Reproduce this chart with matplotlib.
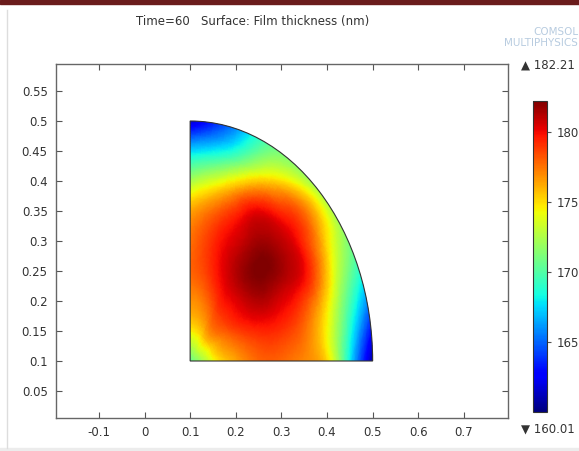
import numpy as np
import matplotlib
matplotlib.use("Agg")
import matplotlib.pyplot as plt
import matplotlib.tri as mtri
from matplotlib.patches import Wedge, Rectangle
from matplotlib.lines import Line2D

# film thickness (nm) on a polar grid around corner (0.1, 0.1)
corner_value = 170.5
radii = [0.05, 0.1, 0.15, 0.2, 0.25, 0.3, 0.35, 0.4]
angles_deg = [0, 15, 30, 45, 60, 75, 90]
# rows: radius, columns: angle
thickness = [
    [174.0, 174.8, 175.3, 175.8, 175.3, 174.8, 174.5],
    [176.3, 177.3, 178.3, 178.8, 178.3, 177.2, 176.8],
    [177.8, 178.8, 180.2, 180.6, 180.2, 178.8, 177.8],
    [177.8, 179.2, 181.0, 182.1, 181.0, 179.3, 177.5],
    [177.0, 178.3, 180.7, 181.9, 180.8, 178.5, 176.3],
    [175.2, 175.5, 179.4, 180.4, 179.5, 175.3, 172.3],
    [168.0, 170.8, 175.0, 177.8, 175.0, 169.8, 167.5],
    [160.2, 166.0, 171.0, 172.0, 171.0, 166.0, 161.0],
]
vmin, vmax = 160.01, 182.21

xticks = [-0.1, 0, 0.1, 0.2, 0.3, 0.4, 0.5, 0.6, 0.7]
xticklabels = ["-0.1", "0", "0.1", "0.2", "0.3", "0.4", "0.5", "0.6", "0.7"]
yticks = [0.05, 0.1, 0.15, 0.2, 0.25, 0.3, 0.35, 0.4, 0.45, 0.5, 0.55]
yticklabels = ["0.05", "0.1", "0.15", "0.2", "0.25", "0.3", "0.35", "0.4", "0.45", "0.5", "0.55"]
cbar_ticks = [165, 170, 175, 180]

title = "Time=60   Surface: Film thickness (nm)"
txt_col = "#333333"
fs = 8.5

fig = plt.figure(figsize=(5.79, 4.51), dpi=100)

# frame bits around the plot window
fig.patches.append(Rectangle((0, 1 - 4 / 451), 1, 4 / 451, transform=fig.transFigure,
                             color="#6b1c1c", zorder=0))
fig.patches.append(Rectangle((0, 0), 1, 3 / 451, transform=fig.transFigure,
                             color="#ececec", zorder=0))
fig.lines.append(Line2D([7 / 579, 7 / 579], [3 / 451, 441 / 451], transform=fig.transFigure,
                        color="#dddddd", lw=1))

ax = fig.add_axes([56 / 579, 33.3 / 451, 451.7 / 579, 353.4 / 451])

# mesh nodes: the corner plus the polar grid
node_r = [0.0]
node_t = [0.0]
node_z = [corner_value]
for i, r in enumerate(radii):
    for j, a in enumerate(angles_deg):
        # outer ring pushed out a hair so the chords cover the arc before clipping
        rr = r / np.cos(np.deg2rad(7.5)) if i == len(radii) - 1 else r
        node_r.append(rr)
        node_t.append(np.deg2rad(a))
        node_z.append(thickness[i][j])
node_r = np.array(node_r)
node_t = np.array(node_t)
nx = 0.1 + node_r * np.cos(node_t)
ny = 0.1 + node_r * np.sin(node_t)

tri = mtri.Triangulation(nx, ny)
refiner = mtri.UniformTriRefiner(tri)
fine_tri, fine_z = refiner.refine_field(np.array(node_z), subdiv=4)

mesh = ax.tripcolor(fine_tri, fine_z, shading="gouraud", cmap="jet", vmin=vmin, vmax=vmax)
domain = Wedge((0.1, 0.1), 0.4, 0, 90, transform=ax.transData)
mesh.set_clip_path(domain)
ax.add_patch(Wedge((0.1, 0.1), 0.4, 0, 90, facecolor="none", edgecolor="#333333", lw=0.8))

ax.set_xlim(-0.194, 0.796)
ax.set_ylim(0.0055, 0.5945)
ax.set_xticks(xticks)
ax.set_xticklabels(xticklabels)
ax.set_yticks(yticks)
ax.set_yticklabels(yticklabels)
ax.tick_params(direction="in", top=True, right=True, length=4, width=0.8,
               color="#555555", labelsize=fs, labelcolor=txt_col, pad=6)
for s in ax.spines.values():
    s.set_color("#666666")
    s.set_linewidth(1.0)

fig.text(253 / 579, 1 - 22 / 451, title, ha="center", va="center", fontsize=fs, color=txt_col)

# faded logo in the corner
fig.text(578 / 579, 1 - 32 / 451, "COMSOL", ha="right", va="center", fontsize=7.5,
         color="#b8cce0")
fig.text(578 / 579, 1 - 43 / 451, "MULTIPHYSICS", ha="right", va="center", fontsize=7.5,
         color="#b8cce0")

cax = fig.add_axes([532.7 / 579, 39.3 / 451, 14.6 / 579, 311 / 451])
cb = fig.colorbar(mesh, cax=cax, ticks=cbar_ticks)
cb.outline.set_edgecolor("#333333")
cb.outline.set_linewidth(0.8)
cax.tick_params(labelsize=fs, labelcolor=txt_col, length=3, color="#555555")

fig.text(521 / 579, 1 - 65 / 451, "\u25b2 182.21", ha="left", va="center", fontsize=fs,
         color=txt_col)
fig.text(521 / 579, 1 - 429 / 451, "\u25bc 160.01", ha="left", va="center", fontsize=fs,
         color=txt_col)

fig.savefig("out.png", dpi=100)
